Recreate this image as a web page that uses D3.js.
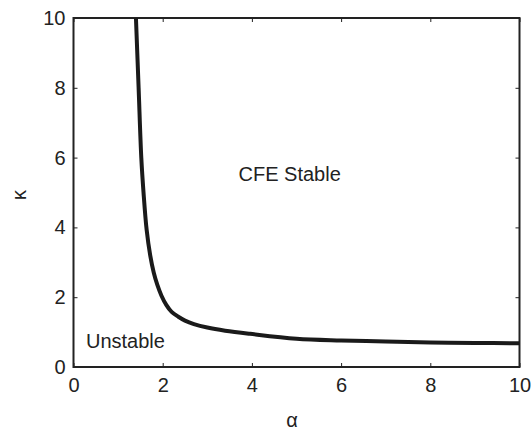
<!DOCTYPE html>
<html>
<head>
<meta charset="utf-8">
<script src="https://cdn.jsdelivr.net/npm/d3@7"></script>
<style>
  body { margin: 0; background: #fff; }
  text { font-family: "Liberation Sans", Arial, Helvetica, sans-serif; fill: #222; }
</style>
</head>
<body>
<script>
// stability boundary
const alpha = [1.40, 1.46, 1.52, 1.57, 1.64, 1.72, 1.80, 1.88, 1.97, 2.08, 2.20, 2.35, 2.50, 2.70, 3.00, 3.40, 3.96, 5.0, 6.0, 7.0, 8.0, 9.0, 10];
const kappa = [10, 8.0, 6.0, 5.0, 3.93, 3.2, 2.7, 2.35, 2.05, 1.78, 1.58, 1.44, 1.33, 1.23, 1.13, 1.04, 0.95, 0.81, 0.76, 0.73, 0.70, 0.69, 0.68];
const xTicks = [0, 2, 4, 6, 8, 10];
const yTicks = [0, 2, 4, 6, 8, 10];
const regionLabels = [
  { text: 'CFE Stable', a: 3.70, k: 5.34 },
  { text: 'Unstable', a: 0.28, k: 0.54 }
];

const W = 532, H = 431;
const margin = { top: 18, right: 12.5, bottom: 64, left: 73.5 };
const width = W - margin.left - margin.right;
const height = H - margin.top - margin.bottom;

const svg = d3.select('body').append('svg')
  .attr('width', W)
  .attr('height', H);

const g = svg.append('g')
  .attr('transform', 'translate(' + margin.left + ',' + margin.top + ')');

const x = d3.scaleLinear().domain([0, 10]).range([0, width]);
const y = d3.scaleLinear().domain([0, 10]).range([height, 0]);

const fs = '20px';

// axes, ticks pointing inward like matlab
const axB = g.append('g')
  .attr('transform', 'translate(0,' + height + ')')
  .call(d3.axisBottom(x).tickValues(xTicks).tickSizeInner(-4).tickSizeOuter(0).tickPadding(11));
const axL = g.append('g')
  .call(d3.axisLeft(y).tickValues(yTicks).tickSizeInner(-4).tickSizeOuter(0).tickPadding(8));
const axT = g.append('g')
  .call(d3.axisTop(x).tickValues(xTicks).tickSizeInner(-4).tickSizeOuter(0).tickFormat(''));
const axR = g.append('g')
  .attr('transform', 'translate(' + width + ',0)')
  .call(d3.axisRight(y).tickValues(yTicks).tickSizeInner(-4).tickSizeOuter(0).tickFormat(''));

[axB, axL, axT, axR].forEach((a) => {
  a.select('.domain').remove();
  a.selectAll('line').attr('stroke', '#222').attr('stroke-width', 1);
  a.selectAll('text').style('font-size', fs).attr('fill', '#222');
});

// box
g.append('rect')
  .attr('width', width)
  .attr('height', height)
  .attr('fill', 'none')
  .attr('stroke', '#222')
  .attr('stroke-width', 2);

// curve
const pts = alpha.map((a, i) => [a, kappa[i]]);
g.append('path')
  .datum(pts)
  .attr('fill', 'none')
  .attr('stroke', '#1a1a1a')
  .attr('stroke-width', 4)
  .attr('d', d3.line()
    .x((d) => x(d[0]))
    .y((d) => y(d[1]))
    .curve(d3.curveCatmullRom.alpha(0.5)));

// region labels
g.selectAll('.region')
  .data(regionLabels)
  .join('text')
  .attr('class', 'region')
  .attr('x', (d) => x(d.a))
  .attr('y', (d) => y(d.k))
  .style('font-size', fs)
  .text((d) => d.text);

// axis labels
svg.append('text')
  .attr('x', 292)
  .attr('y', 427)
  .attr('text-anchor', 'middle')
  .style('font-size', '20px')
  .text('α');

svg.append('text')
  .attr('transform', 'translate(26,195) rotate(-90)')
  .attr('text-anchor', 'middle')
  .style('font-size', '20px')
  .text('κ');
</script>
</body>
</html>
